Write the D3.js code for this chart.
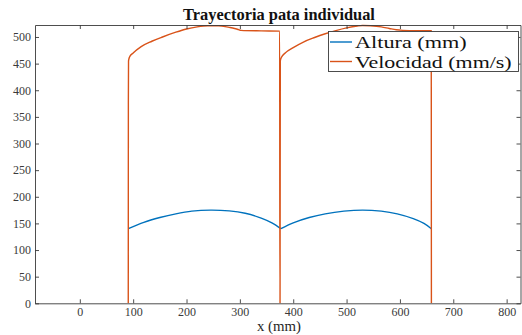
<!DOCTYPE html>
<html>
<head>
<meta charset="utf-8">
<script src="https://cdn.jsdelivr.net/npm/d3@7"></script>
<style>
  body { margin: 0; background: #fff; }
  svg { display: block; }
</style>
</head>
<body>
<svg id="chart" width="522" height="335"></svg>
<script>
'use strict';
(function() {

    // data
    var titleText = 'Trayectoria pata individual';
    var xLabel = 'x (mm)';
    var seriesNames = ['Altura (mm)', 'Velocidad (mm/s)'];
    var seriesColors = ['#0072BD', '#D95319'];

    var xTicks = [0, 100, 200, 300, 400, 500, 600, 700, 800];
    var yTicks = [0, 50, 100, 150, 200, 250, 300, 350, 400, 450, 500];
    var xLimits = [-84, 826];
    var yLimits = [0, 522.5];

    // Altura (height) over x, one arc per step
    var alturaX1 = [91, 120, 150, 180, 210, 245, 280, 310, 340, 360, 377];
    var alturaY1 = [140, 152, 161, 168, 173, 175, 173.5, 169, 160, 151, 140];
    var alturaX2 = [377, 400, 430, 460, 495, 530, 565, 595, 625, 645, 659];
    var alturaY2 = [140, 151, 161, 168, 173, 175, 173, 168, 159, 150, 140];

    // Velocidad (speed) over x, two steps
    var velX = [90.8, 91, 91.3, 93, 100, 115, 135, 155, 180, 200, 220, 240, 260, 280, 290, 297, 302, 340, 374.6,
                375, 375.3, 375.8, 378, 385, 400, 420, 440, 460, 480, 500, 520, 530, 545, 565, 580, 593, 605, 630, 658.7,
                659];
    var velY = [0, 375, 455, 462, 470, 482, 492, 500, 509, 515, 519, 521, 521, 518, 516, 514, 512.5, 511.5, 511,
                0, 0, 455, 462, 470, 480, 491, 499, 506, 512, 517, 520.5, 521.5, 521, 519, 516, 513.5, 512.5, 512, 512,
                0];

    var FONT = '"Liberation Serif", "Times New Roman", serif';

    var width = 522, height = 335;
    var margin = {top: 25, right: 1.5, bottom: 31.7, left: 35};
    var w = width - margin.left - margin.right,
        h = height - margin.top - margin.bottom;

    var svg = d3.select('#chart');
    var g = svg.append('g')
        .attr('transform', 'translate(' + margin.left + ',' + margin.top + ')');

    var x = d3.scaleLinear().domain(xLimits).range([0, w]);
    var y = d3.scaleLinear().domain(yLimits).range([h, 0]);

    svg.append('defs').append('clipPath').attr('id', 'plotClip')
        .append('rect').attr('x', 0).attr('y', -1).attr('width', w).attr('height', h + 1);

    var smooth = d3.line()
        .x(function(d) { return x(d[0]); })
        .y(function(d) { return y(d[1]); })
        .curve(d3.curveCatmullRom.alpha(0.5));

    var mono = d3.line()
        .x(function(d) { return x(d[0]); })
        .y(function(d) { return y(d[1]); })
        .curve(d3.curveMonotoneX);

    function zip(a, b) {
        return a.map(function(v, i) { return [v, b[i]]; });
    }

    var plot = g.append('g').attr('clip-path', 'url(#plotClip)');

    [zip(alturaX1, alturaY1), zip(alturaX2, alturaY2)].forEach(function(arc) {
        plot.append('path')
            .datum(arc)
            .attr('fill', 'none')
            .attr('stroke', seriesColors[0])
            .attr('stroke-width', 1.4)
            .attr('d', smooth);
    });

    plot.append('path')
        .datum(zip(velX, velY))
        .attr('fill', 'none')
        .attr('stroke', seriesColors[1])
        .attr('stroke-width', 1.4)
        .attr('stroke-linejoin', 'round')
        .attr('d', mono);

    // axes (box on, ticks inward)
    function styleAxis(sel) {
        sel.attr('font-family', null).attr('font-size', null);
        sel.select('.domain').attr('stroke', '#3a3a3a').attr('stroke-width', 0.9);
        sel.selectAll('.tick line').attr('stroke', '#3a3a3a').attr('stroke-width', 0.9);
        sel.selectAll('.tick text')
            .style('font-family', FONT)
            .style('font-size', '12px')
            .attr('fill', '#3a3a3a');
    }

    g.append('g')
        .attr('transform', 'translate(0,' + h + ')')
        .call(d3.axisBottom(x).tickValues(xTicks).tickSize(-4).tickSizeOuter(0).tickPadding(4))
        .call(styleAxis);

    g.append('g')
        .call(d3.axisLeft(y).tickValues(yTicks).tickSize(-4).tickSizeOuter(0).tickPadding(4))
        .call(styleAxis);

    g.append('g')
        .call(d3.axisTop(x).tickValues(xTicks).tickSize(-4).tickSizeOuter(0).tickFormat(''))
        .call(styleAxis);

    g.append('g')
        .attr('transform', 'translate(' + w + ',0)')
        .call(d3.axisRight(y).tickValues(yTicks).tickSize(-4).tickSizeOuter(0).tickFormat(''))
        .call(styleAxis);

    // fit a text to a target width by adjusting its size
    function fitText(sel, target, start) {
        sel.style('font-family', FONT).style('font-size', start + 'px');
        var len = sel.node().getComputedTextLength();
        sel.style('font-size', (start * target / len) + 'px');
    }

    var title = svg.append('text')
        .attr('x', 279)
        .attr('y', 19.5)
        .attr('text-anchor', 'middle')
        .attr('font-weight', 'bold')
        .attr('fill', '#111')
        .text(titleText);
    fitText(title, 192, 12);

    var xl = svg.append('text')
        .attr('x', 279)
        .attr('y', 330.5)
        .attr('text-anchor', 'middle')
        .attr('fill', '#262626')
        .text(xLabel);
    fitText(xl, 44, 12);

    // legend
    var legend = svg.append('g');
    legend.append('rect')
        .attr('x', 328.5).attr('y', 31.5)
        .attr('width', 190).attr('height', 40)
        .attr('fill', '#fff')
        .attr('stroke', '#3a3a3a')
        .attr('stroke-width', 0.9);

    var rowY = [42, 61.5];
    var targets = [111.7, 156.7];
    seriesNames.forEach(function(name, i) {
        legend.append('line')
            .attr('x1', 330).attr('x2', 352)
            .attr('y1', rowY[i]).attr('y2', rowY[i])
            .attr('stroke', seriesColors[i])
            .attr('stroke-width', 1.4);
        legend.append('text')
            .attr('x', 355)
            .attr('y', rowY[i] + 6)
            .attr('fill', '#111')
            .attr('textLength', targets[i])
            .attr('lengthAdjust', 'spacingAndGlyphs')
            .style('font-family', FONT)
            .style('font-size', '17px')
            .text(name);
    });

})();
</script>
</body>
</html>
